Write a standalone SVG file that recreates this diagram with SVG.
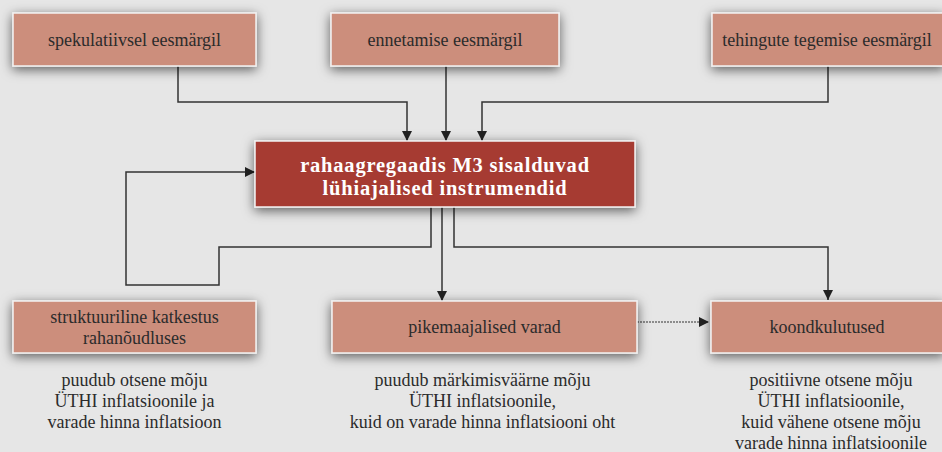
<svg xmlns="http://www.w3.org/2000/svg" width="942" height="452" viewBox="0 0 942 452">
<defs>
<filter id="sh" x="-20%" y="-50%" width="140%" height="200%">
<feDropShadow dx="0" dy="3" stdDeviation="6" flood-color="#000" flood-opacity="0.6"/>
</filter>
<marker id="ar" viewBox="0 0 10 10" refX="10" refY="5" markerWidth="10" markerHeight="10" markerUnits="userSpaceOnUse" orient="auto">
<path d="M0,0 L10,5 L0,10 Z" fill="#222"/>
</marker>
</defs>
<style>
.box{fill:#CC8E7C;stroke:#F2F2F2;stroke-width:1.5;filter:url(#sh)}
.main{fill:#A63A32;stroke:#F2F2F2;stroke-width:1.5;filter:url(#sh)}
.t{font-family:"Liberation Serif","Times New Roman",serif;font-size:18px;fill:#2b2b2b;text-anchor:middle}
.mt{font-family:"Liberation Serif","Times New Roman",serif;font-size:20.5px;font-weight:bold;fill:#fff;text-anchor:middle;letter-spacing:0.8px}
.c{fill:none;stroke:#333;stroke-width:1.5}
.d{fill:none;stroke:#333;stroke-width:1;stroke-dasharray:2 1}
</style>
<rect width="942" height="452" fill="#E6E6E6"/>
<g id="connectors">
<path class="c" d="M178,66 V102 H407 V141" marker-end="url(#ar)"/>
<path class="c" d="M446,66 V141" marker-end="url(#ar)"/>
<path class="c" d="M828,66 V102 H482 V141" marker-end="url(#ar)"/>
<path class="c" d="M431,207 V247 H219 V285 H126 V172 H255" marker-end="url(#ar)"/>
<path class="c" d="M442,207 V301" marker-end="url(#ar)"/>
<path class="c" d="M454,207 V247 H828 V300" marker-end="url(#ar)"/>
<path class="d" d="M637,322 H709" marker-end="url(#ar)"/>
</g>
<g id="n1"><rect class="box" x="13" y="13" width="243" height="53"/><text class="t" x="134.5" y="46">spekulatiivsel eesmärgil</text></g>
<g id="n2"><rect class="box" x="331" y="13" width="228" height="53"/><text class="t" x="445" y="46">ennetamise eesmärgil</text></g>
<g id="n3"><rect class="box" x="712" y="13" width="232" height="53"/><text class="t" x="827" y="46">tehingute tegemise eesmärgil</text></g>
<g id="main"><rect class="main" x="255" y="141" width="380" height="66"/><text class="mt" x="445" y="172">rahaagregaadis M3 sisalduvad</text><text class="mt" x="445" y="195">lühiajalised instrumendid</text></g>
<g id="n4"><rect class="box" x="13" y="301" width="243" height="52"/><text class="t" x="134.5" y="323">struktuuriline katkestus</text><text class="t" x="134.5" y="344">rahanõudluses</text></g>
<g id="n5"><rect class="box" x="332" y="301" width="305" height="52"/><text class="t" x="484.5" y="333">pikemaajalised varad</text></g>
<g id="n6"><rect class="box" x="711" y="301" width="233" height="52"/><text class="t" x="827" y="333">koondkulutused</text></g>
<g id="l4"><text class="t" x="134.5" y="386">puudub otsene mõju</text><text class="t" x="134.5" y="407">ÜTHI inflatsioonile ja</text><text class="t" x="134.5" y="428">varade hinna inflatsioon</text></g>
<g id="l5"><text class="t" x="482.5" y="386">puudub märkimisväärne mõju</text><text class="t" x="482.5" y="407">ÜTHI inflatsioonile,</text><text class="t" x="482.5" y="428">kuid on varade hinna inflatsiooni oht</text></g>
<g id="l6"><text class="t" x="831" y="386">positiivne otsene mõju</text><text class="t" x="831" y="407">ÜTHI inflatsioonile,</text><text class="t" x="831" y="428">kuid vähene otsene mõju</text><text class="t" x="831" y="449">varade hinna inflatsioonile</text></g>
</svg>
